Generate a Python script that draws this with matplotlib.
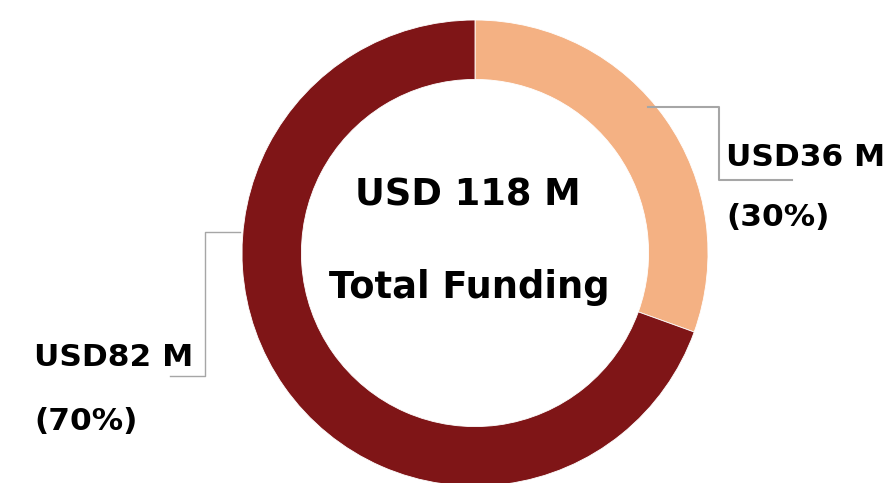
import matplotlib.pyplot as plt

values = [36, 82]
amount_labels = ["USD36 M", "USD82 M"]
pct_labels = ["(30%)", "(70%)"]
colors = ["#F4B183", "#7F1517"]
center_lines = ["USD 118 M", "Total Funding"]

W, H = 890, 483
fig = plt.figure(figsize=(W / 100, H / 100), dpi=100)
ax = fig.add_axes([0, 0, 1, 1])

cx, cy, r = 475, H - 253, 233
ax.pie(values, colors=colors, startangle=90, counterclock=False,
       center=(cx, cy), radius=r, frame=True,
       wedgeprops=dict(width=r * 0.255, edgecolor="white", linewidth=0.6))
ax.set_xlim(0, W)
ax.set_ylim(0, H)
ax.set_aspect("equal")
ax.axis("off")

font = dict(family="DejaVu Sans", weight="bold", color="black")
ax.text(468, H - 195, center_lines[0], ha="center", va="center", fontsize=26.5, **font)
ax.text(469, H - 287, center_lines[1], ha="center", va="center", fontsize=26.5, **font)

# leader lines
grey = "#A6A6A6"
ax.plot([648, 719, 719, 792], [H - 107, H - 107, H - 180, H - 180], color=grey, lw=1.5)
ax.plot([240, 205, 205, 170], [H - 232, H - 232, H - 376, H - 376], color=grey, lw=1)

ax.text(726, H - 157, amount_labels[0], ha="left", va="center", fontsize=22.5, **font)
ax.text(726, H - 218, pct_labels[0], ha="left", va="center", fontsize=22.5, **font)
ax.text(34, H - 358, amount_labels[1], ha="left", va="center", fontsize=22.5, **font)
ax.text(34, H - 422, pct_labels[1], ha="left", va="center", fontsize=22.5, **font)

fig.savefig("out.png", dpi=100)
